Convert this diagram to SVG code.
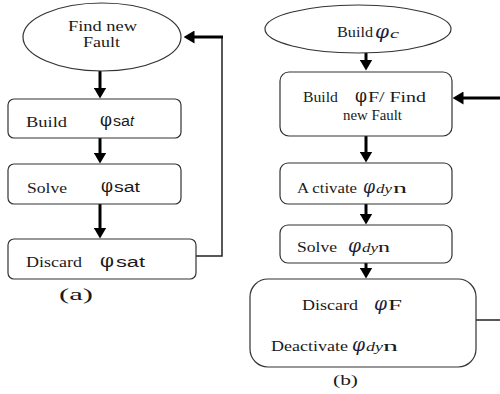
<svg xmlns="http://www.w3.org/2000/svg" width="500" height="394" viewBox="0 0 500 394">
  <style>
    .shape { fill: #ffffff; stroke: #333333; stroke-width: 1.2; }
    .flow { fill: none; stroke: #000000; stroke-width: 3; }
    .thin { fill: none; stroke: #222222; stroke-width: 1.5; }
    text { font-family: "Liberation Serif", "Times New Roman", serif; fill: #1a1a1a; }
    .lbl { font-size: 14px; }
    .phi { font-family: "DejaVu Serif", serif; font-size: 19px; }
    .iphi { font-family: "DejaVu Serif", serif; font-size: 19px; font-style: italic; fill: #1a2040; }
    .sub { font-family: "Liberation Sans", Arial, sans-serif; font-size: 14px; }
    .isub { font-size: 13px; font-style: italic; }
  </style>
  <defs>
    <marker id="head" viewBox="0 0 11 13" refX="0.5" refY="6.5" markerWidth="11" markerHeight="13" markerUnits="userSpaceOnUse" orient="auto">
      <path d="M0,0 L11,6.5 L0,13 z" fill="#000000"/>
    </marker>
  </defs>

  <!-- connectors -->
  <g id="connectors">
    <!-- left flow -->
    <line class="flow" x1="100" y1="71" x2="100" y2="88" marker-end="url(#head)"/>
    <line class="flow" x1="100" y1="138" x2="100" y2="153" marker-end="url(#head)"/>
    <line class="flow" x1="100" y1="204" x2="100" y2="228" marker-end="url(#head)"/>
    <polyline class="thin" points="196,256 222,256 222,37"/>
    <line class="flow" x1="223" y1="37" x2="194" y2="37" stroke-width="2.5" marker-end="url(#head)"/>
    <!-- right flow -->
    <line class="flow" x1="366" y1="53" x2="366" y2="60" marker-end="url(#head)"/>
    <line class="flow" x1="366" y1="136" x2="366" y2="152" marker-end="url(#head)"/>
    <line class="flow" x1="366" y1="204" x2="366" y2="214" marker-end="url(#head)"/>
    <line class="flow" x1="366" y1="263" x2="366" y2="268" marker-end="url(#head)"/>
    <line class="flow" x1="500" y1="98" x2="463" y2="98" stroke-width="2.5" marker-end="url(#head)"/>
    <line class="thin" x1="476" y1="320" x2="500" y2="320"/>
  </g>

  <!-- (a) -->
  <g id="find-fault">
    <ellipse class="shape" cx="102" cy="37" rx="79" ry="34"/>
    <text class="lbl" x="68" y="31" textLength="69" lengthAdjust="spacingAndGlyphs">Find new</text>
    <text class="lbl" x="83" y="47" textLength="37" lengthAdjust="spacingAndGlyphs">Fault</text>
  </g>
  <g id="build-sat">
    <rect class="shape" x="8" y="99" width="173" height="39" rx="6"/>
    <text class="lbl" x="26" y="127" textLength="41" lengthAdjust="spacingAndGlyphs">Build</text>
    <text class="phi" x="100" y="126" textLength="12" lengthAdjust="spacingAndGlyphs">φ</text>
    <text class="sub" x="113" y="126" font-size="13" textLength="17" lengthAdjust="spacingAndGlyphs">sa</text>
    <text class="sub" x="130" y="126" font-size="13" font-style="italic">t</text>
  </g>
  <g id="solve-sat">
    <rect class="shape" x="8" y="164" width="173" height="40" rx="6"/>
    <text class="lbl" x="27" y="193" textLength="40" lengthAdjust="spacingAndGlyphs">Solve</text>
    <text class="phi" x="101" y="192" textLength="12" lengthAdjust="spacingAndGlyphs">φ</text>
    <text class="sub" x="114" y="192" font-size="13" textLength="26" lengthAdjust="spacingAndGlyphs">sat</text>
  </g>
  <g id="discard-sat">
    <rect class="shape" x="8" y="239" width="188" height="40" rx="6"/>
    <text class="lbl" x="26" y="267" textLength="56" lengthAdjust="spacingAndGlyphs">Discard</text>
    <text class="phi" x="100" y="267" font-size="21" textLength="14" lengthAdjust="spacingAndGlyphs">φ</text>
    <text class="sub" x="116" y="267" font-size="17" textLength="29" lengthAdjust="spacingAndGlyphs">sat</text>
  </g>
  <text x="59" y="300" font-size="16" textLength="34" lengthAdjust="spacingAndGlyphs">(a)</text>

  <!-- (b) -->
  <g id="build-c">
    <ellipse class="shape" cx="358" cy="29" rx="93" ry="24"/>
    <text class="lbl" x="337" y="37" textLength="36" lengthAdjust="spacingAndGlyphs">Build</text>
    <text class="iphi" x="375" y="38" textLength="14" lengthAdjust="spacingAndGlyphs">φ</text>
    <text class="isub" x="390" y="38" textLength="9" lengthAdjust="spacingAndGlyphs">c</text>
  </g>
  <g id="build-f">
    <rect class="shape" x="280" y="72" width="172" height="64" rx="9"/>
    <text class="lbl" x="303" y="102" textLength="35" lengthAdjust="spacingAndGlyphs">Build</text>
    <text class="phi" x="355" y="102" textLength="12" lengthAdjust="spacingAndGlyphs">φ</text>
    <text class="lbl" x="368" y="102" textLength="58" lengthAdjust="spacingAndGlyphs">F/ Find</text>
    <text class="lbl" x="343" y="120" textLength="59" lengthAdjust="spacingAndGlyphs">new Fault</text>
  </g>
  <g id="activate-dyn">
    <rect class="shape" x="280" y="163" width="172" height="41" rx="8"/>
    <text class="lbl" x="297" y="193" textLength="60" lengthAdjust="spacingAndGlyphs">A ctivate</text>
    <text class="iphi" x="363" y="193" textLength="12" lengthAdjust="spacingAndGlyphs">φ</text>
    <text class="isub" x="376" y="193" textLength="16" lengthAdjust="spacingAndGlyphs">dy</text>
    <text class="lbl" x="393" y="193" textLength="14" lengthAdjust="spacingAndGlyphs">n</text>
  </g>
  <g id="solve-dyn">
    <rect class="shape" x="280" y="225" width="172" height="38" rx="8"/>
    <text class="lbl" x="297" y="252" textLength="40" lengthAdjust="spacingAndGlyphs">Solve</text>
    <text class="iphi" x="348" y="252" textLength="13" lengthAdjust="spacingAndGlyphs">φ</text>
    <text class="isub" x="362" y="252" textLength="16" lengthAdjust="spacingAndGlyphs">dy</text>
    <text class="lbl" x="378" y="252" textLength="12" lengthAdjust="spacingAndGlyphs">n</text>
  </g>
  <g id="discard-deactivate">
    <rect class="shape" x="250" y="279" width="226" height="88" rx="18"/>
    <text class="lbl" x="302" y="310" textLength="56" lengthAdjust="spacingAndGlyphs">Discard</text>
    <text class="iphi" x="374" y="310" textLength="13" lengthAdjust="spacingAndGlyphs">φ</text>
    <text class="lbl" x="388" y="310" textLength="14" lengthAdjust="spacingAndGlyphs">F</text>
    <text class="lbl" x="271" y="351" textLength="77" lengthAdjust="spacingAndGlyphs">Deactivate</text>
    <text class="iphi" x="352" y="351" textLength="13" lengthAdjust="spacingAndGlyphs">φ</text>
    <text class="isub" x="366" y="351" textLength="17" lengthAdjust="spacingAndGlyphs">dy</text>
    <text class="lbl" x="383" y="351" textLength="15" lengthAdjust="spacingAndGlyphs">n</text>
  </g>
  <text x="333" y="385" font-size="14" textLength="25" lengthAdjust="spacingAndGlyphs">(b)</text>
</svg>
